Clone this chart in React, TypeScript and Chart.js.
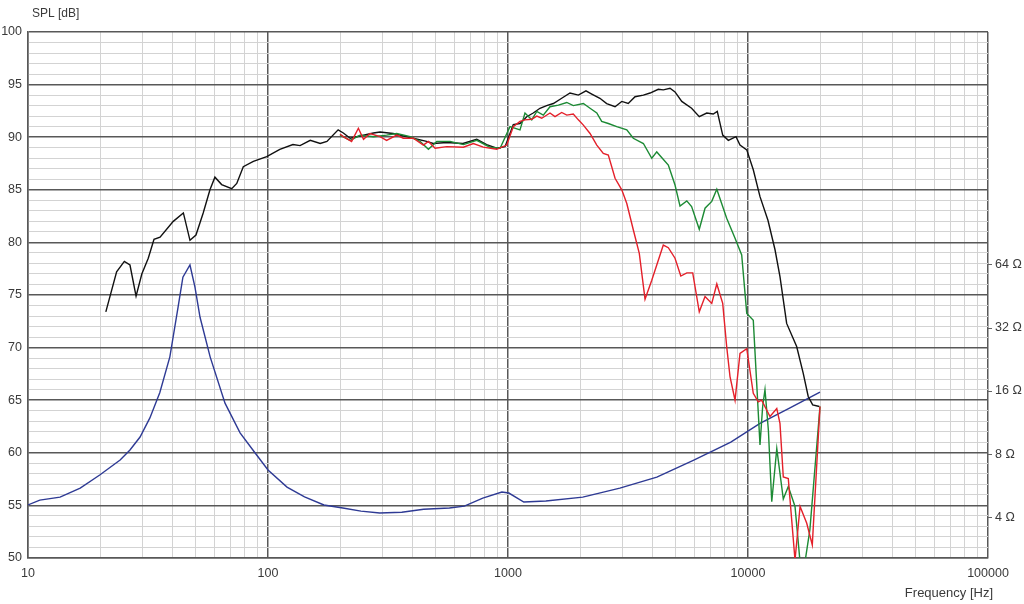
import React, { useEffect, useRef } from 'react';
import { Chart, registerables } from 'chart.js';

Chart.register(...registerables);

// ---- Data ----
const blackFreq = [21.1, 23.4, 25.2, 26.6, 28.2, 29.8, 31.7, 33.5, 35.5, 40.3, 44.4, 47.3, 50.1, 53.7, 57.3, 60.1, 64.1, 70.6, 74.1, 78.9, 86.9, 98.8, 112, 127, 136, 150, 165, 176, 196, 206, 220, 275, 293, 332, 355, 402, 458, 488, 556, 649, 741, 815, 897, 972, 1052, 1122, 1197, 1274, 1359, 1449, 1545, 1674, 1813, 1964, 2113, 2234, 2415, 2577, 2793, 2979, 3170, 3383, 3665, 3908, 4229, 4437, 4732, 4965, 5297, 5821, 6266, 6730, 7166, 7447, 7846, 8280, 8913, 9261, 9882, 10520, 11220, 12110, 12960, 13590, 14490, 15950, 16990, 17820, 18600, 19830];
const blackSpl = [73.4, 77.2, 78.2, 77.85, 74.9, 77.0, 78.5, 80.3, 80.5, 82.0, 82.8, 80.2, 80.7, 82.8, 85.0, 86.2, 85.5, 85.1, 85.6, 87.2, 87.7, 88.15, 88.85, 89.3, 89.2, 89.7, 89.4, 89.6, 90.7, 90.4, 89.9, 90.4, 90.5, 90.35, 90.2, 89.9, 89.6, 89.4, 89.5, 89.4, 89.8, 89.3, 88.95, 89.1, 91.2, 91.3, 91.95, 92.3, 92.75, 93.0, 93.2, 93.7, 94.2, 94.0, 94.4, 94.1, 93.7, 93.2, 92.9, 93.4, 93.2, 93.85, 94.0, 94.2, 94.55, 94.5, 94.65, 94.3, 93.4, 92.75, 91.95, 92.3, 92.2, 92.45, 90.2, 89.7, 90.05, 89.25, 88.8, 86.9, 84.35, 82.1, 79.3, 76.75, 72.3, 70.1, 67.55, 65.35, 64.55, 64.4];

const redFreq = [199.5, 206, 223, 238, 250, 266, 293, 312, 344, 366, 403, 444, 466, 497, 556, 652, 717, 789, 897, 988, 1052, 1122, 1177, 1256, 1318, 1382, 1496, 1570, 1674, 1757, 1871, 1964, 2061, 2197, 2344, 2495, 2618, 2793, 2979, 3126, 3327, 3524, 3724, 3972, 4437, 4656, 4965, 5248, 5559, 5884, 6266, 6622, 7063, 7413, 7846, 8150, 8414, 8831, 9261, 9882, 10520, 11040, 11400, 12350, 13180, 13590, 14030, 14720, 15700, 16480, 17570, 18530, 19950];
const redSpl = [90.3, 90.05, 89.6, 90.85, 89.8, 90.35, 90.05, 89.7, 90.2, 89.9, 89.9, 89.25, 89.6, 88.95, 89.1, 89.05, 89.4, 89.05, 88.85, 89.25, 91.0, 91.5, 91.65, 91.7, 92.0, 91.8, 92.3, 91.95, 92.35, 92.1, 92.2, 91.65, 91.15, 90.35, 89.25, 88.45, 88.3, 86.1, 85.0, 83.7, 81.2, 78.95, 74.6, 76.4, 79.75, 79.5, 78.5, 76.8, 77.1, 77.1, 73.4, 74.85, 74.2, 76.05, 74.2, 70.1, 67.25, 65.0, 69.45, 69.9, 65.65, 64.85, 65.0, 63.45, 64.2, 62.8, 57.7, 57.55, 49.8, 54.9, 53.3, 51.25, 64.4];

const greenFreq = [199.5, 220, 242, 275, 312, 344, 391, 430, 466, 505, 573, 652, 741, 841, 927, 1019, 1122, 1177, 1256, 1318, 1403, 1496, 1622, 1757, 1871, 2061, 2197, 2344, 2457, 2618, 2838, 3126, 3327, 3665, 3972, 4167, 4656, 4965, 5209, 5559, 5821, 6266, 6622, 7063, 7413, 8150, 8831, 9413, 9882, 10520, 10870, 11220, 11510, 11770, 12160, 12560, 13180, 14030, 14720, 15700, 16480, 17270, 18110, 19950];
const greenSpl = [90.2, 89.7, 90.2, 90.05, 90.2, 90.35, 90.05, 89.6, 88.85, 89.6, 89.6, 89.3, 89.7, 89.05, 88.95, 91.0, 90.7, 92.3, 91.65, 92.45, 92.1, 92.9, 93.05, 93.3, 93.0, 93.2, 92.75, 92.3, 91.5, 91.3, 91.0, 90.7, 89.9, 89.4, 88.0, 88.6, 87.35, 85.45, 83.45, 83.95, 83.4, 81.25, 83.25, 83.9, 85.05, 82.3, 80.4, 78.8, 73.25, 72.6, 66.6, 60.75, 64.4, 66.0, 62.15, 55.35, 60.4, 55.6, 56.8, 54.9, 49.6, 49.6, 52.7, 64.4];

const impFreq = [10, 11.2, 13.6, 16.5, 19.9, 24.2, 26.6, 29.3, 32.2, 35.4, 39.0, 42.2, 44.2, 47.3, 49.6, 52.1, 57.4, 66.2, 76.5, 88.4, 100, 120, 142, 171, 205, 244, 292, 361, 445, 570, 658, 785, 943, 1008, 1164, 1438, 2049, 2924, 4170, 5946, 8480, 11220, 14960, 19950];
const impOhm = [4.57, 4.82, 4.98, 5.5, 6.35, 7.49, 8.36, 9.65, 11.9, 15.7, 23.3, 40.3, 56, 64, 50.3, 36, 23.3, 14, 10.1, 8.09, 6.71, 5.56, 5.0, 4.57, 4.42, 4.27, 4.18, 4.22, 4.36, 4.42, 4.51, 4.93, 5.27, 5.21, 4.72, 4.77, 4.98, 5.5, 6.21, 7.49, 9.13, 11.2, 13.3, 15.8];

const xDecades = [10, 100, 1000, 10000, 100000];
const xTickLabels = ['10', '100', '1000', '10000', '100000'];
const splTickLabels = [50, 55, 60, 65, 70, 75, 80, 85, 90, 95, 100];
const ohmTicks = [4, 8, 16, 32, 64];

const xTitle = 'Frequency [Hz]';
const yTitle = 'SPL [dB]';

const MAJOR = '#585858';
const MINOR = '#d3d3d3';
const FONT = '"Liberation Sans", Arial, sans-serif';
const TEXT = '#3a3a3a';

const zip = (xs: number[], ys: number[]) => xs.map((x, i) => ({ x, y: ys[i] }));

const isDecade = (v: number) => Math.abs(Math.log10(v) - Math.round(Math.log10(v))) < 1e-9;

const titlesPlugin = {
  id: 'titlesPlugin',
  afterDraw(chart: any) {
    const ctx = chart.ctx;
    ctx.save();
    ctx.fillStyle = TEXT;
    ctx.textBaseline = 'middle';
    ctx.textAlign = 'left';
    ctx.font = `12px ${FONT}`;
    ctx.fillText(yTitle, 32, 14);
    ctx.textAlign = 'right';
    ctx.font = `13px ${FONT}`;
    ctx.fillText(xTitle, 993, 593);
    ctx.restore();
  },
};

export default function App() {
  const ref = useRef<HTMLCanvasElement | null>(null);

  useEffect(() => {
    document.body.style.margin = '0';
    if (!ref.current) return;
    const chart = new Chart(ref.current, {
      type: 'line',
      data: {
        datasets: [
          { label: 'red', data: zip(redFreq, redSpl), borderColor: '#e4202a', yAxisID: 'y' },
          { label: 'green', data: zip(greenFreq, greenSpl), borderColor: '#1c8a34', yAxisID: 'y' },
          { label: 'black', data: zip(blackFreq, blackSpl), borderColor: '#111111', yAxisID: 'y' },
          { label: 'impedance', data: zip(impFreq, impOhm), borderColor: '#2e3a94', yAxisID: 'y2' },
        ].map((d) => ({ ...d, borderWidth: 1.4, pointRadius: 0, tension: 0, fill: false })),
      },
      options: {
        animation: false,
        responsive: false,
        devicePixelRatio: 1,
        layout: { padding: { top: 32, left: 0, right: 0, bottom: 0 } },
        plugins: { legend: { display: false }, tooltip: { enabled: false } },
        scales: {
          x: {
            type: 'logarithmic',
            min: 10,
            max: 100000,
            afterBuildTicks: (scale: any) => {
              const t: { value: number }[] = [];
              for (let d = 0; d < xDecades.length; d++) {
                const base = xDecades[d];
                if (d === xDecades.length - 1) {
                  t.push({ value: base });
                } else {
                  for (let m = 1; m <= 9; m++) t.push({ value: base * m });
                }
              }
              scale.ticks = t;
            },
            afterFit: (scale: any) => {
              scale.height = 46;
            },
            ticks: {
              autoSkip: false,
              maxRotation: 0,
              padding: 8,
              color: TEXT,
              font: { family: FONT, size: 12.5 },
              callback: (v: any) => {
                const i = xDecades.findIndex((d) => Math.abs(d - Number(v)) < 1e-6);
                return i >= 0 ? xTickLabels[i] : '';
              },
            },
            grid: {
              drawTicks: false,
              color: (c: any) => (isDecade(c.tick.value) ? MAJOR : MINOR),
              lineWidth: (c: any) => (isDecade(c.tick.value) ? 1.5 : 1),
            },
            border: { color: MAJOR, width: 1.5 },
          },
          y: {
            type: 'linear',
            position: 'left',
            min: 50,
            max: 100,
            afterFit: (scale: any) => {
              scale.width = 28;
            },
            ticks: {
              stepSize: 1,
              autoSkip: false,
              padding: 6,
              color: TEXT,
              font: { family: FONT, size: 12.5 },
              callback: (v: any) => (splTickLabels.includes(Number(v)) ? String(v) : ''),
            },
            grid: {
              drawTicks: false,
              color: (c: any) => (c.tick.value % 5 === 0 ? MAJOR : MINOR),
              lineWidth: (c: any) => (c.tick.value % 5 === 0 ? 1.5 : 1),
            },
            border: { color: MAJOR, width: 1.5 },
          },
          y2: {
            type: 'logarithmic',
            position: 'right',
            min: 2.55,
            max: 830,
            afterBuildTicks: (scale: any) => {
              scale.ticks = ohmTicks.map((v) => ({ value: v }));
            },
            afterFit: (scale: any) => {
              scale.width = 36;
            },
            ticks: {
              autoSkip: false,
              padding: 3,
              color: TEXT,
              font: { family: FONT, size: 12.5 },
              callback: (v: any) => `${v} Ω`,
            },
            grid: {
              drawOnChartArea: false,
              drawTicks: true,
              tickLength: 4,
              color: '#666666',
            },
            border: { display: false },
          },
        },
      },
      plugins: [titlesPlugin],
    } as any);
    return () => chart.destroy();
  }, []);

  return (
    <div style={{ width: 1024, height: 604 }}>
      <canvas ref={ref} width={1024} height={604} style={{ display: 'block' }} />
    </div>
  );
}
